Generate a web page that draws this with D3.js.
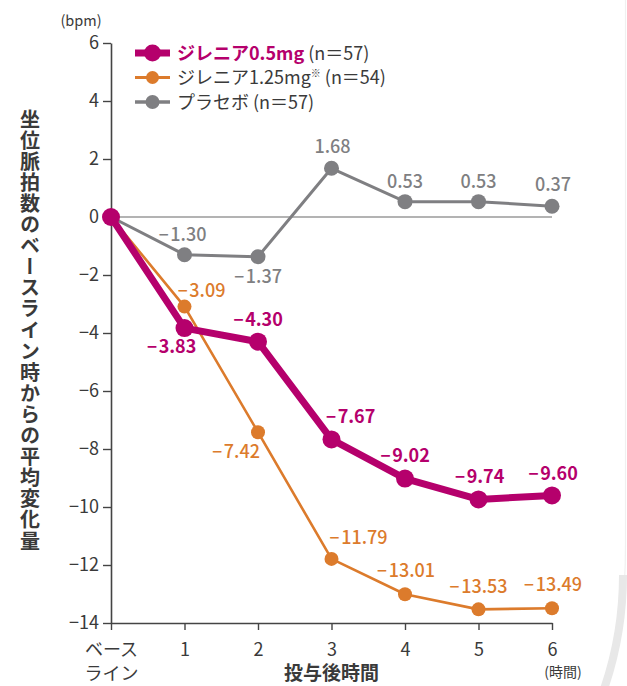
<!DOCTYPE html>
<html lang="ja">
<head>
<meta charset="utf-8">
<script src="https://cdn.jsdelivr.net/npm/d3@7"></script>
<style>
  html, body { margin: 0; padding: 0; background: #fff; }
  svg { display: block; font-family: "Noto Sans CJK JP", "Noto Sans", sans-serif; }
</style>
</head>
<body>
<svg id="chart" width="627" height="686"></svg>
<script>
// Time points (hours after dosing) and their axis labels
const hours = [0, 1, 2, 3, 4, 5, 6];
const hourLabels = ["ベース|ライン", "1", "2", "3", "4", "5", "6"];

// Mean change from baseline in sitting pulse rate (bpm)
const gilenya05 = [0, -3.83, -4.30, -7.67, -9.02, -9.74, -9.60];
const gilenya125 = [0, -3.09, -7.42, -11.79, -13.01, -13.53, -13.49];
const placebo = [0, -1.30, -1.37, 1.68, 0.53, 0.53, 0.37];

const yTicks = [6, 4, 2, 0, -2, -4, -6, -8, -10, -12, -14];

// Value-label nudges relative to each point [dx, dy(baseline)]
const nudge05 = [null, [-13, 25], [0, -16], [19, -16], [0, -17], [1, -16], [1, -15]];
const nudge125 = [null, [17, -10], [-22, 26], [27, -15], [1, -17], [0, -16], [1, -17]];
const nudgePlacebo = [null, [-2, -14], [0, 26], [1, -15], [0, -14], [0, -14], [1, -15]];

const C05 = "#b5006c", C125 = "#dc7b2c", CPL = "#7f7f82", INK = "#3a3a3a";

const svg = d3.select("#chart");

const x = d3.scaleLinear().domain([0, 6]).range([111, 552]);
const y = d3.scaleLinear().domain([-14, 6]).range([623, 43]);

// faint card edge at the right
svg.append("path").attr("d", "M625.5,0 L625.5,540 Q626,640 602,700")
  .attr("fill", "none").attr("stroke", "#f0f0f0").attr("stroke-width", 1.2);
svg.append("path").attr("d", "M623,575 Q623,640 600,700")
  .attr("fill", "none").attr("stroke", "#e8e8e8").attr("stroke-width", 8);

// zero reference line
svg.append("line")
  .attr("x1", x(0)).attr("x2", x(6)).attr("y1", y(0)).attr("y2", y(0))
  .attr("stroke", "#9a9a9a").attr("stroke-width", 1.5);

// y axis
const yAxis = svg.append("g").attr("transform", `translate(${x(0)},0)`)
  .call(d3.axisLeft(y).tickValues(yTicks).tickSize(8).tickPadding(4).tickSizeOuter(0)
    .tickFormat(d3.format("d")));
yAxis.select(".domain").attr("stroke", "#444").attr("stroke-width", 1.6);
yAxis.selectAll(".tick line").attr("stroke", "#444").attr("stroke-width", 1.4);
yAxis.selectAll(".tick text").attr("fill", INK).attr("font-size", 18)
  .attr("font-family", "'Noto Sans CJK JP', sans-serif");

// x axis
const xAxis = svg.append("g").attr("transform", `translate(0,${y(-14)})`)
  .call(d3.axisBottom(x).tickValues(hours).tickSize(7).tickSizeOuter(0).tickFormat(() => ""));
xAxis.select(".domain").attr("stroke", "#444").attr("stroke-width", 1.6);
xAxis.selectAll(".tick line").attr("stroke", "#444").attr("stroke-width", 1.4);

xAxis.selectAll(".tick").each(function (d, i) {
  const parts = hourLabels[i].split("|");
  parts.forEach((p, k) => {
    d3.select(this).append("text")
      .attr("fill", INK).attr("font-size", 18).attr("text-anchor", "middle")
      .attr("font-family", "'Noto Sans CJK JP', sans-serif")
      .attr("x", 0).attr("y", 33 + k * 24).text(p);
  });
});

// unit labels
svg.append("text").attr("x", 81).attr("y", 26).attr("text-anchor", "middle")
  .attr("font-size", 14.5).attr("fill", INK).text("(bpm)");
svg.append("text").attr("x", 563).attr("y", 677).attr("text-anchor", "middle")
  .attr("font-size", 14).attr("fill", INK).text("(時間)");

// axis titles
svg.append("text").attr("x", x(3)).attr("y", 680).attr("text-anchor", "middle")
  .attr("font-size", 19).attr("font-weight", 700).attr("fill", INK).text("投与後時間");
svg.append("text").attr("x", 30).attr("y", 109)
  .style("writing-mode", "vertical-rl")
  .attr("font-size", 20).attr("font-weight", 700).attr("letter-spacing", 1.1).attr("fill", INK)
  .text("坐位脈拍数のベースライン時からの平均変化量");

// series
const series = [
  { values: placebo, color: CPL, width: 3, r: 7.5, weight: 500, nudge: nudgePlacebo },
  { values: gilenya125, color: C125, width: 2.6, r: 7, weight: 500, nudge: nudge125 },
  { values: gilenya05, color: C05, width: 7, r: 9, weight: 700, nudge: nudge05 }
];

const line = d3.line().x((d, i) => x(hours[i])).y(d => y(d));
const fmtAbs = d3.format(".2f");

series.forEach(s => {
  const g = svg.append("g");
  g.append("path").datum(s.values).attr("d", line)
    .attr("fill", "none").attr("stroke", s.color).attr("stroke-width", s.width)
    .attr("stroke-linejoin", "round");
  g.selectAll("circle").data(s.values).join("circle")
    .attr("cx", (d, i) => x(hours[i])).attr("cy", d => y(d)).attr("r", s.r)
    .attr("fill", s.color);
});

// value labels: a wide minus sign followed by the magnitude
series.forEach(s => {
  const labels = svg.append("g").selectAll("text")
    .data(s.values.map((v, i) => ({ v, i })).filter(d => d.i > 0))
    .join("text")
    .attr("x", d => x(hours[d.i]) + s.nudge[d.i][0])
    .attr("y", d => y(d.v) + s.nudge[d.i][1])
    .attr("text-anchor", "middle").attr("font-size", 18).attr("font-weight", s.weight)
    .attr("fill", s.color);
  labels.filter(d => d.v < 0).append("tspan")
    .attr("font-family", "'Noto Sans', sans-serif").text("\u2212");
  labels.append("tspan").attr("dx", d => d.v < 0 ? 1.5 : 0).text(d => fmtAbs(Math.abs(d.v)));
});

// legend
const legend = [
  { name: "ジレニア0.5mg", note: "", n: "(n＝57)", color: C05, width: 7, r: 8.5, bold: true },
  { name: "ジレニア1.25mg", note: "※", n: "(n＝54)", color: C125, width: 3, r: 6.5, bold: false },
  { name: "プラセボ", note: "", n: "(n＝57)", color: CPL, width: 3.5, r: 7, bold: false }
];
const lg = svg.append("g").attr("transform", "translate(135,53)");
legend.forEach((d, i) => {
  const row = lg.append("g").attr("transform", `translate(0,${i * 24.5})`);
  row.append("line").attr("x1", 0).attr("x2", 35).attr("stroke", d.color).attr("stroke-width", d.width);
  row.append("circle").attr("cx", 17.5).attr("r", d.r).attr("fill", d.color);
  const t = row.append("text").attr("x", 42).attr("y", 6.5).attr("font-size", 18);
  t.append("tspan").text(d.name)
    .attr("fill", d.bold ? d.color : INK).attr("font-weight", d.bold ? 700 : 400);
  if (d.note) t.append("tspan").text(d.note).attr("font-size", 10).attr("dy", -7).attr("fill", INK);
  t.append("tspan").text(d.n).attr("fill", INK).attr("dx", 4).attr("dy", d.note ? 7 : 0).attr("font-weight", 400);
});
</script>
</body>
</html>
